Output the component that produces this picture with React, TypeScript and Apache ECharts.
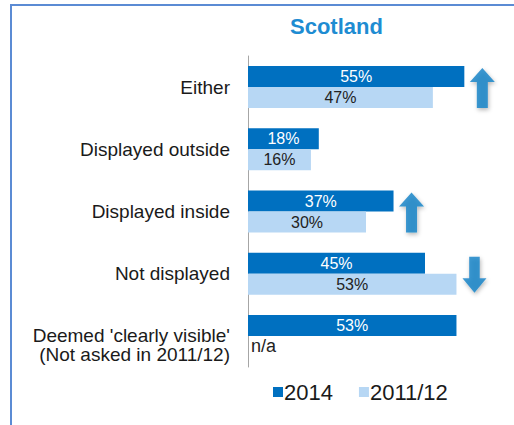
import React, { useEffect, useRef } from "react";
import * as echarts from "echarts";

const categories = [
  "Either",
  "Displayed outside",
  "Displayed inside",
  "Not displayed",
  "Deemed 'clearly visible'\n(Not asked in 2011/12)",
];
const values2014 = [55, 18, 37, 45, 53];
const values2011 = [47, 16, 30, 53, null];
const changes = ["up", "", "up", "down", ""];
const seriesNames = ["2014", "2011/12"];
const titleText = "Scotland";

const FONT = "'Liberation Sans', Arial, sans-serif";
const DARK = "#0070C0";
const LIGHT = "#B7D7F4";
const ARROW = "#1080C6";
const UP_PATH = "path://M12.5,0 L25,14 L18,14 L18,40 L7,40 L7,14 L0,14 Z";
const DOWN_PATH = "path://M7,0 L18,0 L18,21 L25,21 L12.5,35 L0,21 L7,21 Z";

export default function App() {
  const ref = useRef<HTMLDivElement>(null);
  useEffect(() => {
    document.body.style.margin = "0";
    const chart = echarts.init(ref.current!, null, { renderer: "svg" });

    const arrowData = categories
      .map((c, i) => {
        if (!changes[i]) return null;
        const maxV = Math.max(values2014[i], values2011[i] ?? 0);
        const up = changes[i] === "up";
        return {
          value: [maxV, c],
          symbol: up ? UP_PATH : DOWN_PATH,
          symbolSize: up ? [25, 40] : [24, 36],
          symbolOffset: [18, 1],
        };
      })
      .filter((d) => d !== null);

    const last = categories.length - 1;

    chart.setOption({
      animation: false,
      backgroundColor: "#ffffff",
      title: {
        text: titleText,
        left: 290,
        top: 15,
        padding: 0,
        textStyle: { fontFamily: FONT, fontSize: 22, fontWeight: "bold", color: "#1E8CD2" },
      },
      legend: {
        data: seriesNames,
        left: 268,
        top: 376,
        icon: "rect",
        itemWidth: 10,
        itemHeight: 10,
        itemGap: 26,
        textStyle: { fontFamily: FONT, fontSize: 22, color: "#1a1a1a", padding: [0, 0, 0, -4] },
      },
      grid: { left: 248, top: 56, width: 236, height: 311 },
      xAxis: { type: "value", min: 0, max: 60, show: false },
      yAxis: {
        type: "category",
        inverse: true,
        data: categories,
        axisLine: { lineStyle: { color: "#A6A6A6", width: 1 } },
        axisTick: { length: 6, lineStyle: { color: "#A6A6A6" } },
        axisLabel: {
          fontFamily: FONT,
          fontSize: 19,
          color: "#1a1a1a",
          margin: 18,
          lineHeight: 19,
          formatter: (v: string, i: number) => (i === last ? "\n" + v : v),
        },
      },
      series: [
        {
          name: seriesNames[0],
          type: "bar",
          barWidth: 21,
          barGap: "0%",
          itemStyle: { color: DARK },
          label: {
            show: true,
            position: "inside",
            formatter: "{c}%",
            color: "#ffffff",
            fontFamily: FONT,
            fontSize: 16,
          },
          data: values2014,
        },
        {
          name: seriesNames[1],
          type: "bar",
          barWidth: 21,
          barGap: "0%",
          itemStyle: { color: LIGHT },
          label: {
            show: true,
            position: "inside",
            formatter: "{c}%",
            color: "#222222",
            fontFamily: FONT,
            fontSize: 16,
          },
          data: values2011.map((v) =>
            v === null
              ? {
                  value: 0,
                  label: {
                    formatter: "n/a",
                    position: "right",
                    distance: 3,
                    color: "#222222",
                    fontSize: 18,
                  },
                }
              : v
          ),
        },
        {
          type: "scatter",
          silent: true,
          itemStyle: {
            color: ARROW,
            shadowBlur: 4,
            shadowColor: "rgba(0,0,0,0.35)",
            shadowOffsetX: 1,
            shadowOffsetY: 2,
          },
          data: arrowData,
        },
      ],
      graphic: [
        { type: "line", shape: { x1: 11, y1: 4, x2: 11, y2: 425 }, style: { stroke: "#5B8BD4", lineWidth: 2 } },
        { type: "line", shape: { x1: 10, y1: 5, x2: 514, y2: 5 }, style: { stroke: "#5B8BD4", lineWidth: 2 } },
      ],
    });
    return () => chart.dispose();
  }, []);
  return <div ref={ref} style={{ width: 514, height: 425 }} />;
}
